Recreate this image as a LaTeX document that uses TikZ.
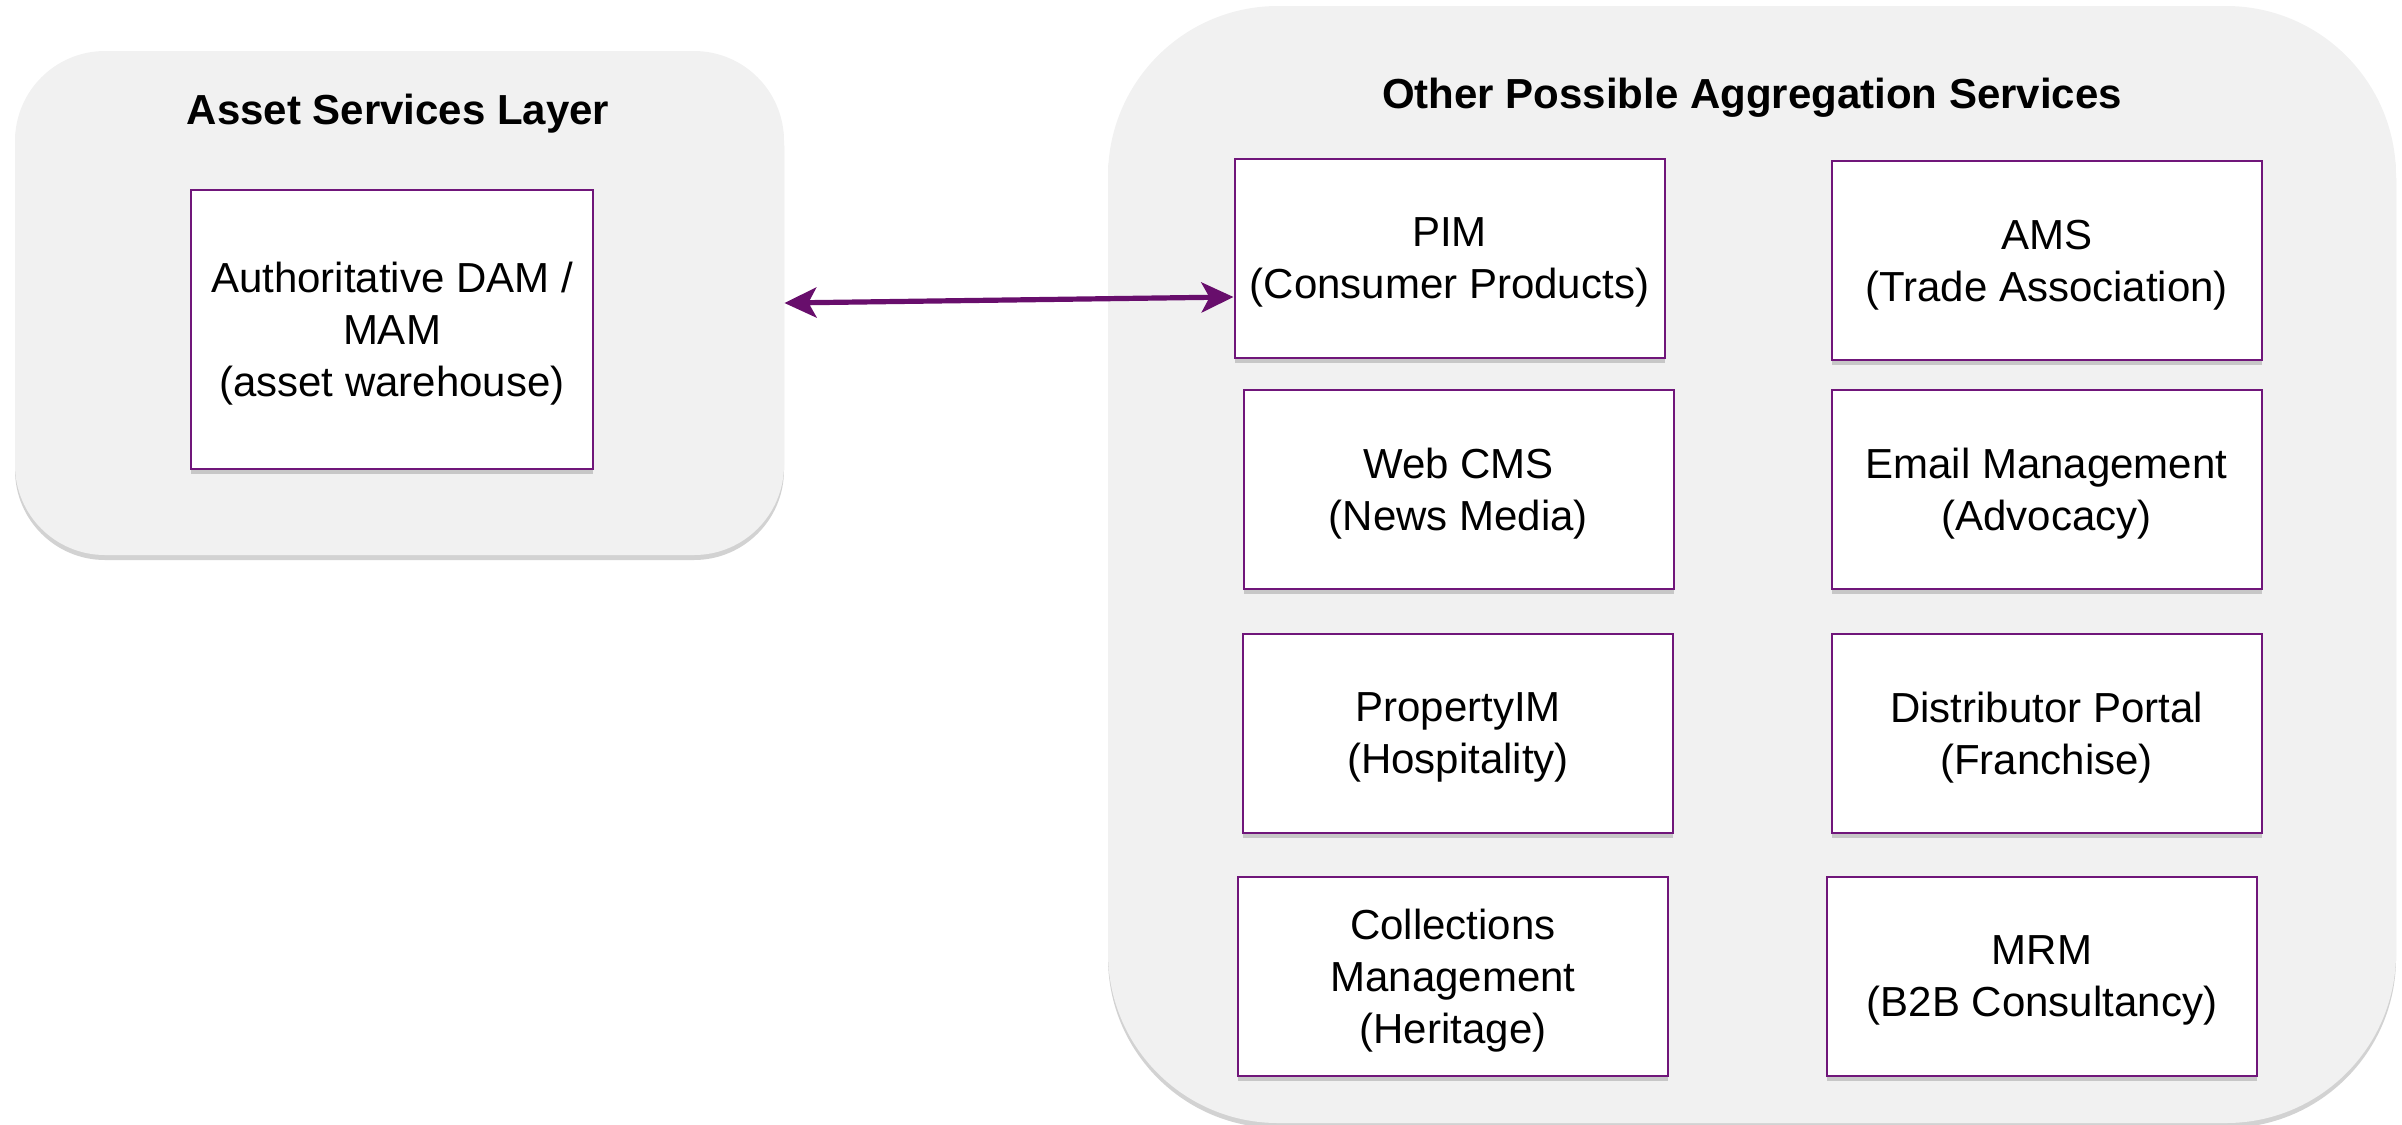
\documentclass[tikz,border=0pt]{standalone}
\usepackage{fontspec}
\setmainfont{Liberation Sans}
\usetikzlibrary{shadows,arrows.meta,calc}
\definecolor{contfill}{RGB}{241,241,241}
\definecolor{boxline}{RGB}{112,22,122}
\definecolor{arrowc}{RGB}{104,14,108}
\begin{document}
\begin{tikzpicture}[x=0.5pt,y=-0.5pt,
  container/.style={fill=contfill, draw=none, inner sep=0pt,
    drop shadow={shadow xshift=0pt, shadow yshift=-2.5pt, opacity=0.25, fill=black!70}},
  ttl/.style={font=\fontsize{21}{26}\selectfont\bfseries, inner sep=0pt},
  svc/.style={draw=boxline, line width=1pt, fill=white, inner sep=0pt,
    minimum width=215pt, minimum height=99.5pt, align=center,
    font=\fontsize{21}{26}\selectfont, text depth=-1.5pt,
    drop shadow={shadow xshift=0pt, shadow yshift=-2.5pt, opacity=0.25, fill=black!70}},
  link/.style={draw=arrowc, line width=2.6pt, {Stealth[length=16pt,width=15pt,inset=4pt]}-{Stealth[length=16pt,width=15pt,inset=4pt]}}
]
\useasboundingbox (0,0) rectangle (2402,1124);
% containers
\node[container, rounded corners=45pt, minimum width=384.5pt, minimum height=252pt] (asl) at (399.5,303) {};
\node[container, rounded corners=85pt, minimum width=644pt, minimum height=558.5pt] (oas) at (1752,564.5) {};
% titles
\node[ttl] (asltitle) at (398,114) {Asset Services Layer};
\node[ttl] (oastitle) at (1752,98) {Other Possible Aggregation Services};
% left box
\node[svc, minimum width=201pt, minimum height=139.5pt] (dam) at (392,329.5) {Authoritative DAM /\\MAM\\(asset warehouse)};
% right boxes
\node[svc] (pim) at (1449.5,258.5) {PIM\\(Consumer Products)};
\node[svc] (ams) at (2046.5,260.5) {AMS\\(Trade Association)};
\node[svc] (cms) at (1458.5,489.5) {Web CMS\\(News Media)};
\node[svc] (email) at (2046.5,489.5) {Email Management\\(Advocacy)};
\node[svc] (prop) at (1458,733) {PropertyIM\\(Hospitality)};
\node[svc] (dist) at (2046.5,733) {Distributor Portal\\(Franchise)};
\node[svc] (coll) at (1453,976.5) {Collections\\Management\\(Heritage)};
\node[svc] (mrm) at (2042,976.5) {MRM\\(B2B Consultancy)};
% connector
\draw[link] (asl.east) -- ([yshift=-19.25pt]pim.west);
\end{tikzpicture}
\end{document}
